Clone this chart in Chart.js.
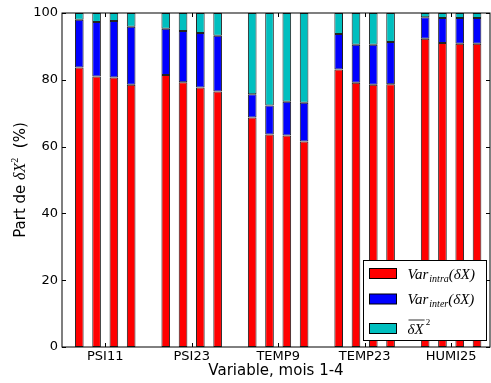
<!DOCTYPE html>
<html>
<head>
<meta charset="utf-8">
<script src="https://cdn.jsdelivr.net/npm/chart.js@4/dist/chart.umd.min.js"></script>
<style>
  html, body { margin: 0; padding: 0; background: #fff; }
  #wrap { width: 491px; height: 383px; }
</style>
</head>
<body>
<div id="wrap"><canvas id="partChart" width="491" height="383"></canvas></div>
<script>
// groups on the x axis, 4 bars each (mois 1-4)
const categories = ['PSI11', 'PSI23', 'TEMP9', 'TEMP23', 'HUMI25'];
const monthsPerGroup = 4;

// share of dX^2 in %, 4 months per group, in category order
const intraVals = [83.7, 81.0, 80.7, 78.5,  81.4, 79.3, 77.7, 76.5,  68.7, 63.6, 63.3, 61.5,  83.1, 79.1, 78.5, 78.7,  92.3, 91.0, 90.8, 90.8];
const interVals = [14.3, 16.3, 16.9, 17.4,  13.9, 15.3, 16.3, 16.7,   7.0,  8.7, 10.1, 11.6,  10.6, 11.4, 12.0, 12.6,   6.4,  7.5,  7.7,  7.7];
const meanVals  = [ 2.0,  2.7,  2.4,  4.1,   4.7,  5.4,  6.0,  6.8,  24.3, 27.7, 26.6, 26.9,   6.3,  9.5,  9.5,  8.7,   1.3,  1.5,  1.5,  1.5];

const seriesLabels = ['Var_{intra}(δX)', 'Var_{inter}(δX)', '\\bar{δX}^{2}'];
const yTicks = [0, 20, 40, 60, 80, 100];

function toPoints(vals) {
    return vals.map((v, i) => ({
        x: Math.floor(i / monthsPerGroup) * (monthsPerGroup + 1) + (i % monthsPerGroup),
        y: v
    }));
}

// draws a tiny subset of mathtext: _{..} ^{..} \bar{..}
function drawMath(ctx, str, x, y, size) {
    const re = /\\bar\{([^}]*)\}|_\{([^}]*)\}|\^\{([^}]*)\}|([^\\_^]+)/g;
    const fam = '"Liberation Serif"';
    let m;
    ctx.textBaseline = 'alphabetic';
    ctx.textAlign = 'left';
    while ((m = re.exec(str)) !== null) {
        if (m[1] !== undefined) {
            ctx.font = 'italic ' + size + 'px ' + fam;
            const w = ctx.measureText(m[1]).width;
            ctx.fillText(m[1], x, y);
            ctx.beginPath();
            ctx.moveTo(x + 1, y - size * 0.9);
            ctx.lineTo(x + w + 1, y - size * 0.9);
            ctx.lineWidth = 0.8;
            ctx.strokeStyle = '#000';
            ctx.stroke();
            x += w;
        } else if (m[2] !== undefined) {
            ctx.font = 'italic ' + Math.round(size * 0.68) + 'px ' + fam;
            ctx.fillText(m[2], x + 1, y + size * 0.2);
            x += ctx.measureText(m[2]).width + 1;
        } else if (m[3] !== undefined) {
            ctx.font = Math.round(size * 0.62) + 'px ' + fam;
            ctx.fillText(m[3], x + 2, y - size * 0.6);
            x += ctx.measureText(m[3]).width + 2;
        } else {
            ctx.font = 'italic ' + size + 'px ' + fam;
            ctx.fillText(m[4], x, y);
            x += ctx.measureText(m[4]).width;
        }
    }
}

const framePlugin = {
    id: 'frame',
    afterDatasetsDraw(chart) {
        const ctx = chart.ctx;
        const a = chart.chartArea;
        const xs = chart.scales.x, ys = chart.scales.y;
        ctx.save();
        ctx.strokeStyle = '#000';
        ctx.lineWidth = 1;
        ctx.strokeRect(a.left, a.top, a.right - a.left, a.bottom - a.top);
        // inward ticks on all four sides
        ctx.beginPath();
        yTicks.forEach(v => {
            const py = Math.round(ys.getPixelForValue(v)) + 0.5;
            ctx.moveTo(a.left, py); ctx.lineTo(a.left + 4, py);
            ctx.moveTo(a.right, py); ctx.lineTo(a.right - 4, py);
        });
        xs.ticks.forEach(t => {
            const px = Math.round(xs.getPixelForValue(t.value)) + 0.5;
            ctx.moveTo(px, a.bottom); ctx.lineTo(px, a.bottom - 4);
            ctx.moveTo(px, a.top); ctx.lineTo(px, a.top + 4);
        });
        ctx.stroke();

        // y axis title with math part
        ctx.save();
        ctx.translate(21, (a.top + a.bottom) / 2);
        ctx.rotate(-Math.PI / 2);
        ctx.fillStyle = '#000';
        ctx.textBaseline = 'middle';
        const parts = [
            ['Part de ', '15px "DejaVu Sans"', 0],
            ['δX', 'italic 16px "Liberation Serif"', 0],
            ['2', '10px "Liberation Serif"', -6],
            ['  (%)', '15px "DejaVu Sans"', 0]
        ];
        let total = 0;
        parts.forEach(p => { ctx.font = p[1]; total += ctx.measureText(p[0]).width; });
        let px = -total / 2;
        ctx.textAlign = 'left';
        parts.forEach(p => {
            ctx.font = p[1];
            ctx.fillText(p[0], px, p[2]);
            px += ctx.measureText(p[0]).width;
        });
        ctx.restore();

        // legend box, lower right
        const lx = 363.5, ly = 260.5, lw = 123, lh = 80;
        ctx.fillStyle = '#fff';
        ctx.fillRect(lx, ly, lw, lh);
        ctx.strokeRect(lx, ly, lw, lh);
        const rowCenters = [13, 38.5, 68];
        chart.data.datasets.forEach((ds, i) => {
            const cy = ly + rowCenters[i];
            ctx.fillStyle = ds.backgroundColor;
            ctx.fillRect(lx + 6, cy - 5, 27, 10);
            ctx.strokeRect(lx + 6, cy - 5, 27, 10);
            ctx.fillStyle = '#000';
            drawMath(ctx, ds.label, lx + 44, cy + 5, 15);
        });
        ctx.restore();
    }
};

const ctx = document.getElementById('partChart').getContext('2d');
new Chart(ctx, {
    type: 'bar',
    data: {
        datasets: [{
            label: seriesLabels[0],
            data: toPoints(intraVals),
            backgroundColor: '#ff0000'
        }, {
            label: seriesLabels[1],
            data: toPoints(interVals),
            backgroundColor: '#0000ff'
        }, {
            label: seriesLabels[2],
            data: toPoints(meanVals),
            backgroundColor: '#00bfbf'
        }]
    },
    options: {
        responsive: false,
        animation: false,
        layout: { padding: { top: 13, right: 1, left: 0, bottom: 0 } },
        datasets: {
            bar: {
                borderColor: '#222',
                borderWidth: 1,
                borderSkipped: false,
                categoryPercentage: 1,
                barPercentage: 0.5
            }
        },
        plugins: {
            legend: { display: false },
            tooltip: { enabled: false }
        },
        scales: {
            x: {
                type: 'linear',
                stacked: true,
                offset: false,
                min: -1,
                max: 23.75,
                grid: { display: false, drawTicks: false, tickLength: 0, offset: false },
                border: { display: false },
                afterBuildTicks(scale) {
                    scale.ticks = categories.map((c, g) => ({ value: g * (monthsPerGroup + 1) + 1.5 }));
                },
                afterFit(scale) { scale.height = 36; },
                ticks: {
                    autoSkip: false,
                    maxRotation: 0,
                    padding: 2,
                    color: '#000',
                    font: { family: 'DejaVu Sans', size: 13 },
                    callback: (v, i) => categories[i]
                },
                title: {
                    display: true,
                    text: 'Variable, mois 1-4',
                    color: '#000',
                    font: { family: 'DejaVu Sans', size: 15 },
                    padding: { top: 0, bottom: 3 }
                }
            },
            y: {
                stacked: true,
                min: 0,
                max: 100,
                grid: { display: false, drawTicks: false, tickLength: 0 },
                border: { display: false },
                afterFit(scale) { scale.width = 62; },
                ticks: {
                    stepSize: 20,
                    padding: 4,
                    color: '#000',
                    font: { family: 'DejaVu Sans', size: 13 }
                },
                title: { display: false }
            }
        }
    },
    plugins: [framePlugin]
});
</script>
</body>
</html>
